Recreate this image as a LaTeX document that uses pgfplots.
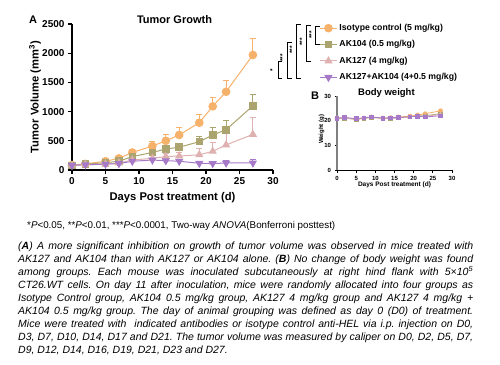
\documentclass[border=0pt]{standalone}
\usepackage{pgfplots}
\pgfplotsset{compat=1.18}
\usepackage{fontspec}
\setmainfont{Liberation Sans}
\frenchspacing
\definecolor{corange}{HTML}{F6B26B}
\definecolor{colive}{HTML}{ABA46E}
\definecolor{cpink}{HTML}{DEB0B0}
\definecolor{cpurple}{HTML}{A779C9}

\pgfplotstableread{
x y e
0 85 0
2 105 15
5 150 25
7 200 30
9 300 50
12 410 80
14 500 100
16 600 120
19 810 140
21 1090 150
23 1340 190
27 1970 280
}\isotype
\pgfplotstableread{
x y e
0 80 0
2 100 15
5 125 20
7 150 25
9 230 40
12 300 50
14 360 60
16 390 70
19 485 90
21 600 120
23 690 150
27 1100 200
}\akone
\pgfplotstableread{
x y e
0 80 0
2 90 10
5 100 15
7 120 20
9 170 30
12 200 40
14 230 50
16 240 60
19 260 100
21 320 150
23 430 220
27 610 290
}\aktwo
\pgfplotstableread{
x y e
0 80 0
2 90 10
5 100 15
7 110 20
9 150 25
12 170 30
14 160 30
16 150 30
19 115 30
21 110 30
23 120 40
27 120 60
}\combo

\pgfplotstableread{
x a b c d
0 21 21 21 21
2 21.2 21 21 21.3
5 20.5 20.5 20.8 20.8
7 21 21 21 21.2
9 21.5 21.3 21.3 21.5
12 21 21 21 21
14 21.2 21 21 21.2
16 21.5 21.2 21 21.3
19 21.8 21.5 21.5 21.6
21 22.3 22 21.8 21.8
23 22.8 22 21.8 21.5
27 24 22.8 22.5 22
}\weight

\begin{document}
\begin{tikzpicture}
\path[use as bounding box] (0pt,0pt) rectangle (500pt,-364pt);
\begin{axis}[
  at={(72pt,-170pt)}, anchor=south west,
  scale only axis, width=201pt, height=146pt,
  xmin=0,xmax=30,ymin=0,ymax=2500,
  axis x line*=bottom, axis y line*=left,
  axis line style={line width=1.5pt,-},
  xtick={0,5,...,30}, ytick={0,500,...,2500},
  tick align=outside, major tick length=4pt,
  tick style={line width=1.2pt,black},
  tick label style={font=\fontsize{10}{12}\selectfont\bfseries},
  /pgf/number format/assume math mode=true,
  /pgf/number format/set thousands separator={},
  clip=false,
  xlabel={Days Post treatment (d)},
  ylabel={Tumor Volume (mm\textsuperscript{3})},
  label style={font=\fontsize{11.2}{13}\selectfont\bfseries},
  xlabel style={at={(axis description cs:0.5,-0.19)}, anchor=center},
  ylabel style={at={(axis description cs:-0.184,0.5)}, anchor=center},
  title={Tumor Growth},
  title style={at={(axis description cs:0.51,0.99)}, anchor=center, font=\fontsize{11}{13}\selectfont\bfseries},
  legend style={at={(axis description cs:1.215,1.027)}, anchor=north west, draw=none, fill=none,
    font=\fontsize{8.7}{10}\selectfont\bfseries, row sep=4.6pt},
  legend cell align=left,
  every axis plot/.append style={line width=1pt},
  error bars/error bar style={line width=1pt},
  error bars/error mark options={rotate=90, mark size=3pt, line width=1pt},
]
\addplot[color=corange, mark=*, mark size=3.8pt, mark options={solid,fill=corange},
  error bars/.cd, y dir=plus, y explicit] table[x=x,y=y,y error=e] {\isotype};
\addlegendentry{Isotype control (5 mg/kg)}
\addplot[color=colive, mark=square*, mark size=3.3pt, mark options={solid,fill=colive},
  error bars/.cd, y dir=plus, y explicit] table[x=x,y=y,y error=e] {\akone};
\addlegendentry{AK104 (0.5 mg/kg)}
\addplot[color=cpink, mark=triangle*, mark size=3.8pt, mark options={solid,fill=cpink},
  error bars/.cd, y dir=plus, y explicit] table[x=x,y=y,y error=e] {\aktwo};
\addlegendentry{AK127 (4 mg/kg)}
\addplot[color=cpurple, mark=triangle*, mark size=3.8pt, mark options={solid,fill=cpurple,rotate=180},
  error bars/.cd, y dir=plus, y explicit] table[x=x,y=y,y error=e] {\combo};
\addlegendentry{AK127+AK104 (4+0.5 mg/kg)}
\end{axis}

\begin{axis}[
  at={(337pt,-170pt)}, anchor=south west,
  scale only axis, width=115pt, height=74pt,
  xmin=0,xmax=30,ymin=0,ymax=30,
  axis x line*=bottom, axis y line*=left,
  x axis line style={line width=0.8pt,-},
  y axis line style={line width=1.6pt,gray,-},
  xtick={0,5,...,30}, ytick={0,10,20,30},
  tick align=outside, major tick length=2.5pt,
  tick style={line width=0.8pt,black},
  tick label style={font=\fontsize{6}{7}\selectfont\bfseries},
  /pgf/number format/assume math mode=true,
  clip=false,
  xlabel={Days Post treatment (d)},
  ylabel={Weight (g)},
  xlabel style={at={(axis description cs:0.5,-0.2)}, anchor=center, font=\fontsize{6.5}{8}\selectfont\bfseries},
  ylabel style={at={(axis description cs:-0.133,0.55)}, anchor=center, font=\fontsize{6}{7}\selectfont\bfseries},
  title={Body weight},
  title style={at={(axis description cs:0.43,0.955)}, anchor=center, font=\fontsize{9.5}{11}\selectfont\bfseries},
  every axis plot/.append style={line width=0.8pt},
]
\addplot[color=corange, mark=*, mark size=2pt, mark options={fill=corange}] table[x=x,y=a] {\weight};
\addplot[color=colive, mark=square*, mark size=1.8pt, mark options={fill=colive}] table[x=x,y=b] {\weight};
\addplot[color=cpink, mark=triangle*, mark size=2pt, mark options={fill=cpink}] table[x=x,y=c] {\weight};
\addplot[color=cpurple, mark=square*, mark size=1.8pt, mark options={fill=cpurple}] table[x=x,y=d] {\weight};
\end{axis}

\begin{scope}[x=1pt,y=-1pt]
\node[font=\fontsize{11}{13}\selectfont\bfseries] at (33,20) {A};
\node[font=\fontsize{11}{13}\selectfont\bfseries] at (315,96) {B};
% significance brackets
\begin{scope}[line width=0.9pt]
\draw (320,26) -- (315.5,26) -- (315.5,44) -- (320,44);
\draw (310.5,25) -- (306.5,25) -- (306.5,61) -- (310.5,61);
\draw (300.5,24) -- (296.5,24) -- (296.5,78) -- (300.5,78);
\draw (291.5,42) -- (287.5,42) -- (287.5,78) -- (291.5,78);
\draw (282,61) -- (278,61) -- (278,78) -- (282,78);
\end{scope}
\begin{scope}[font=\fontsize{6.5}{7}\selectfont\bfseries, inner sep=0pt]
\node[rotate=90] at (311.5,35) {***};
\node[rotate=90] at (302,42) {***};
\node[rotate=90] at (292,50) {***};
\node[rotate=90] at (282.5,58) {***};
\node[rotate=90] at (272.5,70) {*};
\end{scope}
\node[anchor=base west, inner sep=0pt, font=\fontsize{9.8}{12}\selectfont] at (27,228)
  {*\textit{P}<0.05, **\textit{P}<0.01, ***\textit{P}<0.0001, Two-way \textit{ANOVA}(Bonferroni posttest)};
\node[anchor=base west, inner sep=0pt] at (18,249) {\parbox[t]{455pt}{\fontsize{10.5}{13.1}\selectfont\itshape
\makebox[455pt][s]{(\textbf{A}) A more significant inhibition on growth of tumor volume was observed in mice treated with}\\
\makebox[455pt][s]{AK127 and AK104 than with AK127 or AK104 alone. (\textbf{B}) No change of body weight was found}\\
\makebox[455pt][s]{among groups. Each mouse was inoculated subcutaneously at right hind flank with 5×10\textsuperscript{5}}\\
\makebox[455pt][s]{CT26.WT cells. On day 11 after inoculation, mice were randomly allocated into four groups as}\\
\makebox[455pt][s]{Isotype Control group, AK104 0.5 mg/kg group, AK127 4 mg/kg group and AK127 4 mg/kg +}\\
\makebox[455pt][s]{AK104 0.5 mg/kg group. The day of animal grouping was defined as day 0 (D0) of treatment.}\\
\makebox[455pt][s]{Mice were treated with \ indicated antibodies or isotype control anti-HEL via i.p. injection on D0,}\\
\makebox[455pt][s]{D3, D7, D10, D14, D17 and D21. The tumor volume was measured by caliper on D0, D2, D5, D7,}\\
D9, D12, D14, D16, D19, D21, D23 and D27.}};
\end{scope}
\end{tikzpicture}
\end{document}
